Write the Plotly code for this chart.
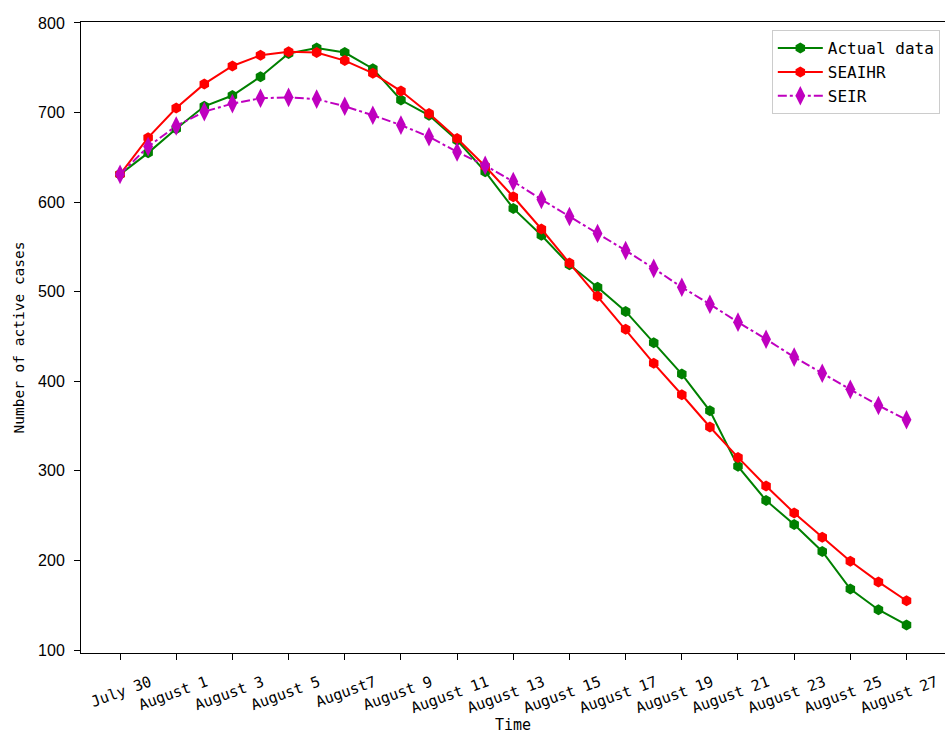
import plotly.graph_objects as go

days = list(range(29))
tick_vals = list(range(0, 29, 2))
tick_text = ["July 30", "August 1", "August 3", "August 5", "August7", "August 9",
             "August 11", "August 13", "August 15", "August 17", "August 19",
             "August 21", "August 23", "August 25", "August 27"]

actual = [631, 655, 682, 707, 719, 740, 766, 772, 767, 749, 714, 697, 669, 634, 593,
          563, 530, 505, 478, 443, 408, 367, 305, 267, 240, 210, 168, 145, 128]
seaihr = [631, 672, 705, 732, 752, 764, 768, 767, 758, 744, 724, 699, 671, 640, 606,
          570, 532, 495, 458, 420, 385, 349, 315, 283, 253, 226, 199, 176, 155]
seir = [631, 662, 685, 701, 710, 716, 717, 715, 707, 697, 686, 673, 656, 641, 623,
        603, 584, 565, 546, 526, 505, 486, 466, 447, 427, 409, 391, 373, 357]

mono = "DejaVu Sans Mono"

fig = go.Figure()
fig.add_trace(go.Scatter(x=days, y=actual, name="Actual data", mode="lines+markers",
                         line=dict(color="#008000", width=2),
                         marker=dict(symbol="hexagon", size=11, color="#008000", line=dict(width=0))))
fig.add_trace(go.Scatter(x=days, y=seaihr, name="SEAIHR", mode="lines+markers",
                         line=dict(color="#ff0000", width=2),
                         marker=dict(symbol="hexagon", size=11, color="#ff0000", line=dict(width=0))))
fig.add_trace(go.Scatter(x=days, y=seir, name="SEIR", mode="lines+markers",
                         line=dict(color="#bf00bf", width=2, dash="dashdot"),
                         marker=dict(symbol="diamond-tall", size=14, color="#bf00bf", line=dict(width=0))))

fig.update_layout(
    width=945, height=734,
    margin=dict(l=81, r=0, t=22, b=81),
    paper_bgcolor="white", plot_bgcolor="white",
    showlegend=True,
    legend=dict(x=0.994, y=0.987, xanchor="right", yanchor="top",
                bgcolor="rgba(255,255,255,0.8)", bordercolor="#cccccc", borderwidth=1,
                font=dict(family=mono, size=16, color="black"),
                itemwidth=45, tracegroupgap=0),
    xaxis=dict(range=[-1.39, 29.37], tickmode="array", tickvals=tick_vals, ticktext=tick_text,
               tickangle=-20, ticks="outside", ticklen=6, tickcolor="black",
               showline=True, linecolor="black", linewidth=1, mirror=True,
               showgrid=False, zeroline=False, automargin=False,
               tickfont=dict(family=mono, size=15, color="black"),
               ticklabelshift=30, ticklabelstandoff=8,
               title=dict(text="Time", font=dict(family=mono, size=15, color="black"), standoff=14)),
    yaxis=dict(range=[96.65, 801.1], tickvals=[100, 200, 300, 400, 500, 600, 700, 800],
               ticks="outside", ticklen=6, tickcolor="black",
               showline=True, linecolor="black", linewidth=1, mirror=False,
               showgrid=False, zeroline=False, automargin=False,
               tickfont=dict(family="Liberation Sans", size=16, color="black"),
               ticklabelstandoff=6,
               title=dict(text="Number of active cases", font=dict(family=mono, size=14.5, color="black"), standoff=10)),
)

fig.write_html("out.html")
